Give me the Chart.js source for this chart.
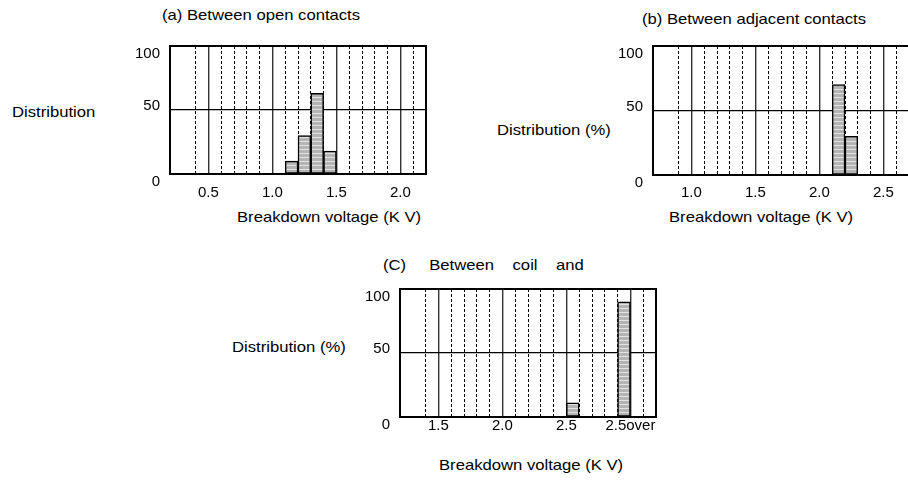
<!DOCTYPE html>
<html>
<head>
<meta charset="utf-8">
<script src="https://cdn.jsdelivr.net/npm/chart.js@4.4.1/dist/chart.umd.min.js"></script>
<style>
  html, body { margin: 0; padding: 0; background: #fff; overflow: hidden; }
  body { width: 908px; height: 480px; position: relative; }
  canvas { position: absolute; }
  .txt {
    position: absolute; color: #000; white-space: pre;
    font: 15px 'Liberation Sans', Arial, sans-serif; line-height: 18px;
    transform: scaleX(1.11); transform-origin: 0 0;
  }
</style>
</head>
<body>
<div class="txt" style="left:162px;top:6px">(a) Between open contacts</div>
<div class="txt" style="left:12px;top:103px">Distribution</div>
<div class="txt" style="left:237px;top:208px">Breakdown voltage (K V)</div>

<div class="txt" style="left:642px;top:10px">(b) Between adjacent contacts</div>
<div class="txt" style="left:497px;top:121px">Distribution (%)</div>
<div class="txt" style="left:669px;top:208px">Breakdown voltage (K V)</div>

<div class="txt" style="left:383px;top:256px">(C)     Between    coil    and</div>
<div class="txt" style="left:232px;top:338px">Distribution (%)</div>
<div class="txt" style="left:439px;top:456px">Breakdown voltage (K V)</div>

<canvas id="chartA" width="330" height="180" style="left:110px;top:30px"></canvas>
<canvas id="chartB" width="340" height="180" style="left:593px;top:30px"></canvas>
<canvas id="chartC" width="330" height="180" style="left:340px;top:273px"></canvas>

<script>
'use strict';

// ── Data (bin centres in kV, distribution in %) ───────────────
const rangeA      = [0.2, 2.2];
const voltsA      = [1.15, 1.25, 1.35, 1.45];
const distA       = [10, 30, 63, 18];
const tickValsA   = [0.5, 1.0, 1.5, 2.0];
const tickLabelsA = ['0.5', '1.0', '1.5', '2.0'];

const rangeB      = [0.7, 2.7];
const voltsB      = [2.15, 2.25];
const distB       = [70, 30];
const tickValsB   = [1.0, 1.5, 2.0, 2.5];
const tickLabelsB = ['1.0', '1.5', '2.0', '2.5'];

const rangeC      = [1.2, 3.2];
const voltsC      = [2.55, 2.95];
const distC       = [11, 90];
const tickValsC   = [1.5, 2.0, 2.5, 3.0];
const tickLabelsC = ['1.5', '2.0', '2.5', '2.5over'];

const yTickVals   = [0, 50, 100];
const yTickLabels = ['0', '50', '100'];

// ── Shared defaults ───────────────────────────────────────────
Chart.defaults.font.family = "'Liberation Sans', Arial, sans-serif";
Chart.defaults.font.size   = 15;
Chart.defaults.color       = '#000';

// ── Helpers ───────────────────────────────────────────────────
function stripes(ctx) {
  const c = document.createElement('canvas');
  c.width = 4; c.height = 4;
  const g = c.getContext('2d');
  g.fillStyle = '#b4b4b4'; g.fillRect(0, 0, 4, 4);
  g.fillStyle = '#e2e2e2'; g.fillRect(0, 3, 4, 1);
  return ctx.createPattern(c, 'repeat');
}

const isMajor = v => Math.abs(v * 2 - Math.round(v * 2)) < 1e-6;
const near    = (a, b) => Math.abs(a - b) < 1e-6;

// box round the plot area, drawn over the bars
const framePlugin = {
  id: 'frame',
  afterDatasetsDraw(chart) {
    const { ctx, chartArea: a } = chart;
    ctx.save();
    ctx.strokeStyle = '#000';
    ctx.lineWidth = 2;
    ctx.strokeRect(a.left, a.top, a.right - a.left, a.bottom - a.top);
    ctx.restore();
  },
};

function yLabel(v) {
  const i = yTickVals.findIndex(t => near(t, v));
  return i < 0 ? '' : yTickLabels[i];
}

// fixed axis sizes so the plot area lands where the layout wants it
function fixSize(s, w, h) {
  if (w !== undefined) s.width = w;
  if (h !== undefined) s.height = h;
  s.paddingTop = s.paddingBottom = s.paddingLeft = s.paddingRight = 0;
}

function histogram(id, o) {
  const ctx = document.getElementById(id).getContext('2d');
  const [lo, hi] = o.range;
  const xLabel = v => {
    const i = o.tickVals.findIndex(t => near(t, v));
    return i < 0 ? '' : o.tickLabels[i];
  };
  // one grid line per 0.1 kV; the edge ones and the first one are not drawn
  const xColor = v => {
    if (v === undefined || near(v, lo) || near(v, hi) || near(v, lo + 0.1)) return 'rgba(0,0,0,0)';
    return isMajor(v) ? '#333' : '#000';
  };

  return new Chart(ctx, {
    type: 'bar',
    data: {
      datasets: [{
        data: o.volts.map((x, i) => ({ x, y: o.dist[i] })),
        backgroundColor: stripes(ctx),
        borderColor: '#000',
        borderWidth: 1.5,
        borderSkipped: false,
        barPercentage: 1,
        categoryPercentage: 1,
      }],
    },
    options: {
      responsive: false,
      animation: false,
      events: [],
      layout: { padding: { top: o.padTop, right: o.padRight, left: 0, bottom: 0 } },
      plugins: { legend: { display: false }, tooltip: { enabled: false } },
      scales: {
        x: {
          type: 'linear',
          min: lo, max: hi,
          offset: false,
          afterBuildTicks: s => {
            const t = [];
            for (let k = 0; k <= Math.round((hi - lo) * 10); k++) t.push({ value: +(lo + k * 0.1).toFixed(1) });
            s.ticks = t;
          },
          afterFit: s => fixSize(s, undefined, o.xHeight),
          grid: {
            offset: false,
            drawTicks: false,
            color: c => xColor(c.tick && c.tick.value),
            lineWidth: c => (c.tick && isMajor(c.tick.value)) ? 1.4 : 1,
          },
          border: {
            display: false,
            dash: c => (c.tick && isMajor(c.tick.value)) ? [] : [3, 2],
          },
          ticks: { autoSkip: false, maxRotation: 0, padding: o.xPad, callback: v => xLabel(v) },
        },
        y: {
          type: 'linear',
          min: 0, max: 100,
          afterBuildTicks: s => { s.ticks = yTickVals.map(value => ({ value })); },
          afterFit: s => fixSize(s, o.yWidth, undefined),
          grid: {
            drawTicks: false,
            color: c => (c.tick && c.tick.value === 50) ? '#000' : 'rgba(0,0,0,0)',
            lineWidth: 1.2,
          },
          border: { display: false },
          ticks: {
            padding: 10,
            // two-line labels nudge "0"/"100" a little below their line and "50" a little above
            font: c => ({ lineHeight: (c.tick && c.tick.value === 50) ? '8px' : '15px' }),
            callback: v => (v === 50 ? [yLabel(v), ''] : ['', yLabel(v)]),
          },
        },
      },
    },
    plugins: [framePlugin],
  });
}

histogram('chartA', { range: rangeA, volts: voltsA, dist: distA, tickVals: tickValsA, tickLabels: tickLabelsA,
  yWidth: 60, xHeight: 36, padTop: 16, padRight: 14, xPad: 10 });
histogram('chartB', { range: rangeB, volts: voltsB, dist: distB, tickVals: tickValsB, tickLabels: tickLabelsB,
  yWidth: 60, xHeight: 35, padTop: 16, padRight: 24, xPad: 9 });
histogram('chartC', { range: rangeC, volts: voltsC, dist: distC, tickVals: tickValsC, tickLabels: tickLabelsC,
  yWidth: 60, xHeight: 36, padTop: 16, padRight: 14, xPad: 0 });
</script>
</body>
</html>
